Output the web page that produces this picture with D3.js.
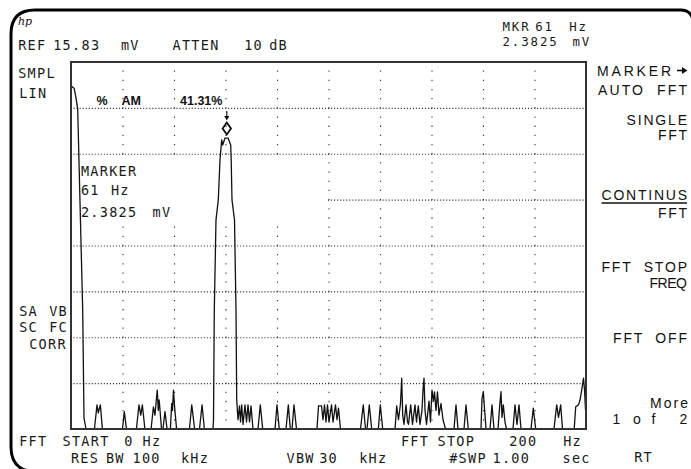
<!DOCTYPE html>
<html><head><meta charset="utf-8">
<script src="https://cdn.jsdelivr.net/npm/d3@7"></script>
<style>
html,body{margin:0;padding:0;background:#fff;}
svg{display:block;}
.mono{font-family:"DejaVu Sans Mono",monospace;font-size:13.5px;letter-spacing:1.3px;fill:#1a1a1a;}
.key{font-family:"Liberation Sans",Arial,sans-serif;font-size:14px;fill:#111;}
.bold{font-family:"Liberation Sans",Arial,sans-serif;font-size:12.5px;font-weight:bold;fill:#111;}
</style></head><body><svg id="c" width="691" height="469"></svg>
<script>
// ---------- data ----------
const spanHz = 200;
const refLevelMv = 15.83;
const yDivisions = 8;
const gridHz = [20, 40, 60, 80, 100, 120, 140, 160, 180];
const markerHz = 60.5;
const markerReadout = ["61 Hz", "2.3825 mV"];
const amPercent = "41.31%";

// trace vertices: frequency (Hz) and amplitude (mV)
const traceHz = [0,1.2,1.9,2.6,4.54,5.05,5.83,9.1,10.1,10.6,11.4,12.2,20.0,20.7,21.55,25.4,26.4,27.1,27.7,28.7,
31.1,32.0,32.6,33.5,33.9,34.25,35.15,35.7,36.5,37.3,38.6,39.1,39.4,39.8,40.2,41.0,46.0,46.9,48.0,49.9,50.9,51.8,
55.15,55.34,55.65,56.31,57.2,57.86,58.52,58.91,59.8,61.0,62.02,62.21,62.52,63.5,64.08,64.35,64.47,
64.85,65.44,65.83,66.29,66.8,67.57,68.16,68.74,69.32,69.9,70.68,72.62,73.51,74.45,79.22,80.0,80.89,
83.5,84.39,85.17,85.83,86.6,87.57,95.53,96.12,97.28,97.86,98.45,99.03,99.61,100.19,101.17,101.75,102.72,103.3,103.88,104.66,
112.43,113.5,114.37,114.95,115.84,116.78,119.34,120.12,121.05,
125.83,126.49,127.18,127.96,128.43,128.82,129.32,130.1,130.68,131.07,131.92,132.62,133.59,134.17,134.87,135.53,
136.31,136.7,137.09,137.48,138.06,138.45,139.03,139.61,140.19,140.78,141.17,141.75,142.33,142.91,143.69,144.47,145.44,
148.74,149.51,150.29,152.62,153.4,154.29,159.22,159.61,160.12,160.58,161.17,162.72,163.5,164.27,
165.83,166.41,166.99,167.38,167.88,168.54,169.13,171.65,172.43,173.2,173.98,174.76,178.64,179.53,180.47,
187.57,188.62,189.32,190.17,190.87,195.42,196.0,197.09,197.67,198.33,199.03,199.42,199.81,200];
const traceMv = [14.8,14.7,14.3,13.8,5.13,0.47,0,0,1.04,0.7,1.04,0,0,0.75,0,0,1.04,0.6,1.04,0,
0,0.95,0.6,1.68,0.8,1.25,0,0,0.75,0,0,1.1,0.8,1.68,1.0,0,0,1.04,0,0,1.04,0,
0,0.39,5.13,9.02,9.88,11.6,12.47,12.25,12.55,12.55,12.25,11.6,9.88,9.02,5.13,1.3,1.04,
0.4,1.0,0.3,1.04,0.2,1.04,0.3,1.04,0.3,1.0,0,0,1.04,0,0,1.04,0,
0,1.04,0,0,1.04,0,0,1.0,1.0,0.4,1.04,0.3,1.04,0.3,1.04,0.3,1.04,0.4,0.9,0,
0,1.04,0,0,1.04,0,0,1.04,0,
0,1.0,0.4,1.1,2.19,0.6,0.2,1.04,0.3,0.2,1.04,0.2,1.04,0.3,1.0,0.2,
0.8,1.68,2.19,0.8,0.2,0.6,1.2,0.3,1.68,1.2,1.6,0.8,1.6,0.6,1.1,0.4,0,
0,1.04,0,0,1.04,0,0,1.3,1.61,0.9,0,0,1.04,0,
0,0.9,1.61,0.5,1.04,0.3,0,0,1.04,0.2,1.04,0,0,0.9,0,
0,1.04,0.5,1.04,0,0,0.96,1.04,1.25,1.68,2.19,1.7,0.82,0.82];

// ---------- layout ----------
const svg = d3.select("#c");
const plot = {left: 71, right: 586, top: 62, bottom: 429};
const x = d3.scaleLinear().domain([0, spanHz]).range([plot.left, plot.right]);
const y = d3.scaleLinear().domain([0, refLevelMv]).range([plot.bottom, plot.top]);
const ink = "#111";

svg.append("rect").attr("width", 691).attr("height", 469).attr("fill", "#fff");

// bezel frame
svg.append("path")
  .attr("d", "M11,447 L11,34 Q11,10 35,10 L681,10 Q690,10 693,19 L693,480 M11,447 Q11,470 34,472 L700,472")
  .attr("fill", "none").attr("stroke", "#000").attr("stroke-width", 3);

// graticule: vertical dotted lines
const hPlot = plot.bottom - plot.top, wPlot = plot.right - plot.left;
svg.append("g").attr("transform", `translate(0,${plot.top})`)
  .call(d3.axisTop(x).tickValues(gridHz).tickSize(-hPlot).tickFormat(""))
  .call(g => g.select(".domain").remove())
  .selectAll("line").attr("stroke", "#333").attr("stroke-width", 1.1)
  .attr("stroke-dasharray", `1.3 ${hPlot / 40 - 1.3}`).attr("stroke-dashoffset", 0.65);

// horizontal dotted lines
const gridMv = d3.range(1, yDivisions).map(i => refLevelMv * i / yDivisions);
svg.append("g").attr("transform", `translate(${plot.left},0)`)
  .call(d3.axisLeft(y).tickValues(gridMv).tickSize(-wPlot).tickFormat(""))
  .call(g => g.select(".domain").remove())
  .selectAll("line").attr("stroke", "#333").attr("stroke-width", 1.1)
  .attr("stroke-dasharray", "1.1 1.93").attr("stroke-dashoffset", -2.5);

// blanked area behind the marker annotation
svg.append("rect").attr("x", plot.left + 1.5).attr("y", 155.5)
  .attr("width", x(99) - plot.left).attr("height", 67.5).attr("fill", "#fff");

// trace
const line = d3.line().x(d => x(d[0])).y(d => y(d[1]));
svg.append("path").datum(d3.zip(traceHz, traceMv))
  .attr("d", line).attr("fill", "none").attr("stroke", ink)
  .attr("stroke-width", 1.3).attr("stroke-linejoin", "round");

// graticule border
svg.append("rect").attr("x", plot.left).attr("y", plot.top)
  .attr("width", wPlot).attr("height", hPlot)
  .attr("fill", "none").attr("stroke", "#333").attr("stroke-width", 2);

// marker diamond + arrow
const peakMv = d3.max(traceMv.filter((v, i) => traceHz[i] > 40 && traceHz[i] < 80));
const mx = x(markerHz), my = y(peakMv) - 9.5;
svg.append("path").attr("d", `M${mx},${my - 6} L${mx + 4.2},${my} L${mx},${my + 6} L${mx - 4.2},${my} Z`)
  .attr("fill", "none").attr("stroke", ink).attr("stroke-width", 1.8);
svg.append("line").attr("x1", mx).attr("x2", mx).attr("y1", 111).attr("y2", 117)
  .attr("stroke", ink).attr("stroke-width", 1.2);
svg.append("path").attr("d", `M${mx - 2.6},${116} L${mx + 2.6},${116} L${mx},${120.5} Z`).attr("fill", ink);

// % AM label
svg.append("text").attr("class", "bold").attr("x", 96.5).attr("y", 105).text("%");
svg.append("text").attr("class", "bold").attr("x", 121.5).attr("y", 105).text("AM");
svg.append("text").attr("class", "bold").attr("x", 180).attr("y", 105).text(amPercent);

// instrument annotations (screen font): text, ink start x, baseline
const [mkF, mkV] = markerReadout.map(s => s.split(" "));
const monoTokens = [
  ["REF",19,50],["15.83",54,50],["mV",121.7,50],["ATTEN",173.3,50],["10",245,50],["dB",270,50],
  ["SMPL",19,78],["LIN",20,98],
  ["SA",20,316],["VB",50,316],["SC",20,331.7],["FC",50,331.7],["CORR",30,349],
  ["MARKER",81.7,176],[mkF[0],81.7,195],[mkF[1],111.7,195],[mkV[0],81.7,216.5],[mkV[1],153.3,216.5],
  ["FFT",20,446],["START",63.3,446],["0",125,446],["Hz",143.3,446],
  ["RES",71.7,463],["BW",106.7,463],["100",133.3,463],["kHz",181.7,463],
  ["VBW",287.3,463],["30",320,463],["kHz",360,463],
  ["FFT",401.7,446],["STOP",438.3,446],["200",510,446],["Hz",564,446],
  ["#SWP",450,463],["1.00",493.3,463],["sec",563.3,463],
  ["RT",635,461.7]
];
svg.append("g").selectAll("text").data(monoTokens).join("text")
  .attr("class", "mono").attr("x", d => d[1] - 0.8).attr("y", d => d[2])
  .text(d => d[0]);

// marker readout, top right (slightly tighter lines)
const readout = [["MKR",503.3,31],[mkF[0],536,31],[mkF[1],570,31],[mkV[0],503.3,45.5],[mkV[1],573.3,45.5]];
svg.append("g").selectAll("text").data(readout).join("text")
  .attr("class", "mono").style("font-size", "12.4px").style("letter-spacing", "1.9px")
  .attr("x", d => d[1] - 0.8).attr("y", d => d[2]).text(d => d[0]);

// hp logo
svg.append("text").attr("x", 18).attr("y", 24.5)
  .style("font-family", "DejaVu Serif").style("font-style", "italic").style("font-size", "11px")
  .style("fill", ink).text("hp");

// softkeys
const softkeys = [
  ["MARKER",597,75.5,74],["AUTO  FFT",598,95,89],["SINGLE",626.5,125,60.5],["FFT",658,140,29],
  ["CONTINUS",601.5,200,85.5],["FFT",658,218,29],["FFT  STOP",601.5,271.7,85.5],["FREQ",649.5,288,37.5],
  ["FFT  OFF",613,343,74],["More",650,408,38],["of",633,424,22.5]
];
svg.append("g").selectAll("text").data(softkeys).join("text")
  .attr("class", "key").attr("x", d => d[1]).attr("y", d => d[2])
  .attr("textLength", d => d[3]).attr("lengthAdjust", "spacing")
  .style("white-space", "pre").text(d => d[0]);
svg.append("text").attr("class", "key").attr("x", 612.5).attr("y", 424).text("1");
svg.append("text").attr("class", "key").attr("x", 679.5).attr("y", 424).text("2");
// CONTINUS underline
svg.append("line").attr("x1", 601.5).attr("x2", 687).attr("y1", 203).attr("y2", 203)
  .attr("stroke", ink).attr("stroke-width", 1.6);
// MARKER arrow
svg.append("line").attr("x1", 677).attr("x2", 683).attr("y1", 70.5).attr("y2", 70.5)
  .attr("stroke", ink).attr("stroke-width", 1.6);
svg.append("path").attr("d", "M682,67 L687.5,70.5 L682,74 Z").attr("fill", ink);
</script></body></html>
